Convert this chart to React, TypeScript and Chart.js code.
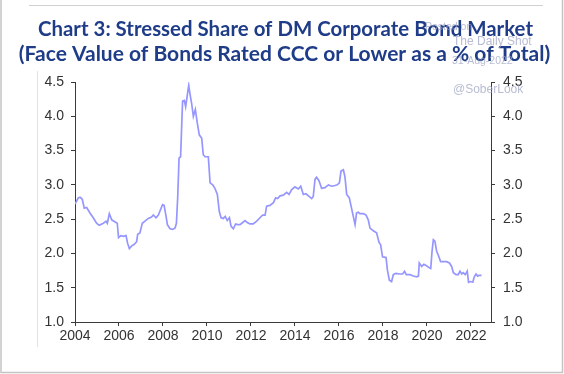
import React, { useEffect, useRef } from "react";
import { Chart, registerables } from "chart.js";

Chart.register(...registerables);

const TITLE_LINES = [
  "Chart 3: Stressed Share of DM Corporate Bond Market",
  "(Face Value of Bonds Rated CCC or Lower as a % of Total)",
];

const years = [
  2004.0, 2004.15, 2004.23, 2004.33, 2004.42, 2004.53, 2004.68, 2004.83, 2004.98, 2005.1,
  2005.29, 2005.41, 2005.47, 2005.56, 2005.67, 2005.77, 2005.92, 2005.98, 2006.09, 2006.2,
  2006.32, 2006.39, 2006.47, 2006.58, 2006.68, 2006.8, 2006.85, 2006.95, 2007.06, 2007.18,
  2007.33, 2007.48, 2007.56, 2007.68, 2007.79, 2007.89, 2007.98, 2008.05, 2008.14, 2008.2,
  2008.32, 2008.44, 2008.55, 2008.61, 2008.67, 2008.73, 2008.8, 2008.89, 2008.97, 2009.03,
  2009.11, 2009.17, 2009.23, 2009.3, 2009.38, 2009.47, 2009.56, 2009.65, 2009.76, 2009.83,
  2009.91, 2010.06, 2010.14, 2010.26, 2010.36, 2010.47, 2010.56, 2010.64, 2010.74, 2010.83,
  2010.92, 2011.02, 2011.09, 2011.2, 2011.3, 2011.39, 2011.5, 2011.58, 2011.73, 2011.83,
  2011.95, 2012.1, 2012.26, 2012.41, 2012.53, 2012.64, 2012.71, 2012.86, 2013.02, 2013.12,
  2013.21, 2013.32, 2013.47, 2013.62, 2013.73, 2013.85, 2014.0, 2014.15, 2014.26, 2014.38,
  2014.5, 2014.61, 2014.76, 2014.83, 2014.91, 2014.98, 2015.09, 2015.21, 2015.36, 2015.52,
  2015.67, 2015.82, 2015.92, 2016.02, 2016.09, 2016.2, 2016.27, 2016.35, 2016.47, 2016.55,
  2016.65, 2016.73, 2016.8, 2016.88, 2016.95, 2017.11, 2017.23, 2017.33, 2017.41, 2017.56,
  2017.71, 2017.82, 2017.89, 2017.98, 2018.14, 2018.2, 2018.29, 2018.39, 2018.47, 2018.58,
  2018.77, 2018.89, 2018.98, 2019.06, 2019.23, 2019.38, 2019.53, 2019.61, 2019.65, 2019.76,
  2019.86, 2019.98, 2020.11, 2020.17, 2020.23, 2020.29, 2020.36, 2020.44, 2020.52, 2020.62,
  2020.74, 2020.89, 2021.02, 2021.12, 2021.2, 2021.32, 2021.42, 2021.5, 2021.58, 2021.65,
  2021.74, 2021.83, 2021.89, 2021.98, 2022.08, 2022.15, 2022.23, 2022.3, 2022.36, 2022.48,
];

const stressedShare = [
  2.72, 2.81, 2.82, 2.79, 2.66, 2.67, 2.59, 2.52, 2.44, 2.41,
  2.44, 2.47, 2.44, 2.58, 2.49, 2.47, 2.44, 2.23, 2.26, 2.25,
  2.26, 2.15, 2.07, 2.11, 2.13, 2.17, 2.28, 2.3, 2.44, 2.47,
  2.51, 2.53, 2.56, 2.52, 2.56, 2.64, 2.71, 2.7, 2.54, 2.42,
  2.36, 2.35, 2.37, 2.44, 2.83, 3.39, 3.41, 4.22, 4.23, 4.14,
  4.32, 4.45, 4.32, 4.19, 4.0, 4.1, 3.9, 3.73, 3.68, 3.44,
  3.41, 3.41, 3.03, 3.0, 2.95, 2.86, 2.61, 2.52, 2.51, 2.54,
  2.48, 2.52, 2.4, 2.36, 2.43, 2.42, 2.42, 2.44, 2.48, 2.45,
  2.43, 2.43, 2.47, 2.52, 2.56, 2.56, 2.69, 2.7, 2.74, 2.81,
  2.8, 2.84, 2.85, 2.89, 2.86, 2.93, 2.97, 2.94, 2.98, 2.86,
  2.87, 2.84, 2.8, 2.83, 3.08, 3.11, 3.06, 2.95, 2.96, 3.0,
  2.98, 2.99, 3.0, 3.03, 3.2, 3.22, 3.12, 2.86, 2.81, 2.69,
  2.54, 2.42, 2.59, 2.6, 2.58, 2.58, 2.56, 2.49, 2.37, 2.33,
  2.3, 2.16, 2.13, 1.95, 1.94, 1.76, 1.61, 1.59, 1.69, 1.71,
  1.7, 1.7, 1.74, 1.69, 1.69, 1.67, 1.66, 1.67, 1.86, 1.81,
  1.84, 1.82, 1.79, 1.78, 2.03, 2.2, 2.18, 2.03, 1.97, 1.88,
  1.88, 1.88, 1.86, 1.81, 1.72, 1.69, 1.69, 1.74, 1.7, 1.72,
  1.69, 1.74, 1.58, 1.59, 1.58, 1.66, 1.7, 1.67, 1.68, 1.68,
];

const X_MIN = 2004;
const X_MAX = 2022.91;
const X_STEP = 2;
const Y_MIN = 1.0;
const Y_MAX = 4.5;
const Y_STEP = 0.5;

const watermarks = [
  { text: "Posted on", x: 425, y: 27, size: 10.5 },
  { text: "The Daily Shot", x: 453, y: 42, size: 12 },
  { text: "31-Aug-2022", x: 452, y: 61, size: 10.5 },
  { text: "@SoberLook", x: 453, y: 90, size: 12 },
];

const decorPlugin = {
  id: "decor",
  beforeDraw(chart: any) {
    const ctx = chart.ctx;
    ctx.save();
    ctx.fillStyle = "#ffffff";
    ctx.fillRect(0, 0, chart.width, chart.height);
    // frame
    ctx.strokeStyle = "#c4c4c4";
    ctx.lineWidth = 1.5;
    ctx.beginPath();
    ctx.moveTo(1, 0);
    ctx.lineTo(1, 372.5);
    ctx.lineTo(562.5, 372.5);
    ctx.lineTo(562.5, 0);
    ctx.stroke();
    ctx.lineWidth = 1;
    ctx.strokeStyle = "#d0d0d0";
    ctx.beginPath();
    ctx.moveTo(29, 5.5);
    ctx.lineTo(543, 5.5);
    ctx.stroke();
    ctx.strokeStyle = "#e2e2e2";
    ctx.beginPath();
    ctx.moveTo(37.5, 71);
    ctx.lineTo(37.5, 347);
    ctx.stroke();
    // title
    ctx.fillStyle = "#1f3c88";
    ctx.font = "bold 21px Lato";
    ctx.textAlign = "center";
    ctx.textBaseline = "alphabetic";
    ctx.fillText(TITLE_LINES[0], 285.5, 36, 495);
    ctx.fillText(TITLE_LINES[1], 284.5, 61, 533);
    ctx.restore();
  },
  afterDraw(chart: any) {
    const ctx = chart.ctx;
    ctx.save();
    ctx.fillStyle = "rgba(160,166,196,0.75)";
    ctx.textAlign = "left";
    ctx.textBaseline = "middle";
    for (const w of watermarks) {
      ctx.font = `${w.size}px "Liberation Sans", Arial, sans-serif`;
      ctx.fillText(w.text, w.x, w.y);
    }
    ctx.restore();
  },
};

export default function App() {
  const ref = useRef<HTMLCanvasElement | null>(null);

  useEffect(() => {
    if (!ref.current) return;
    const points = years.map((x, i) => ({ x, y: stressedShare[i] }));
    const tickFont = { family: '"Liberation Sans", Arial, sans-serif', size: 14 };
    const axisColor = "#3a3a3a";
    const chart = new Chart(ref.current, {
      type: "line",
      data: {
        datasets: [
          {
            data: points,
            borderColor: "rgb(150,150,255)",
            borderWidth: 1.7,
            pointRadius: 0,
            tension: 0,
            fill: false,
            yAxisID: "y",
          },
        ],
      },
      plugins: [decorPlugin],
      options: {
        animation: false,
        responsive: false,
        maintainAspectRatio: false,
        devicePixelRatio: 1,
        layout: { padding: { top: 82, left: 0, right: 0, bottom: 0 } },
        plugins: {
          legend: { display: false },
          title: { display: false },
          tooltip: { enabled: false },
        },
        scales: {
          x: {
            type: "linear",
            min: X_MIN,
            max: X_MAX,
            afterFit(scale: any) {
              scale.height = 52;
            },
            ticks: {
              stepSize: X_STEP,
              includeBounds: false,
              autoSkip: false,
              maxRotation: 0,
              padding: 2,
              color: "#333333",
              font: tickFont,
              callback: (v: any) => String(v),
            },
            grid: {
              drawOnChartArea: false,
              drawTicks: true,
              tickLength: 4,
              color: axisColor,
            },
            border: { display: true, color: axisColor, width: 1 },
          },
          y: {
            type: "linear",
            position: "left",
            min: Y_MIN,
            max: Y_MAX,
            afterFit(scale: any) {
              scale.width = 75;
            },
            ticks: {
              stepSize: Y_STEP,
              padding: 7,
              color: "#333333",
              font: tickFont,
              callback: (v: any) => Number(v).toFixed(1),
            },
            grid: {
              drawOnChartArea: false,
              drawTicks: true,
              tickLength: 4,
              color: axisColor,
            },
            border: { display: true, color: axisColor, width: 1 },
          },
          y2: {
            type: "linear",
            position: "right",
            min: Y_MIN,
            max: Y_MAX,
            afterFit(scale: any) {
              scale.width = 73;
            },
            ticks: {
              stepSize: Y_STEP,
              padding: 8,
              color: "#333333",
              font: tickFont,
              callback: (v: any) => Number(v).toFixed(1),
            },
            grid: {
              drawOnChartArea: false,
              drawTicks: true,
              tickLength: 4,
              color: axisColor,
            },
            border: { display: true, color: axisColor, width: 1 },
          },
        },
      } as any,
    });
    return () => chart.destroy();
  }, []);

  return (
    <div style={{ position: "absolute", left: 0, top: 0, width: 564, height: 374 }}>
      <canvas ref={ref} width={564} height={374} style={{ width: 564, height: 374, display: "block" }} />
    </div>
  );
}
